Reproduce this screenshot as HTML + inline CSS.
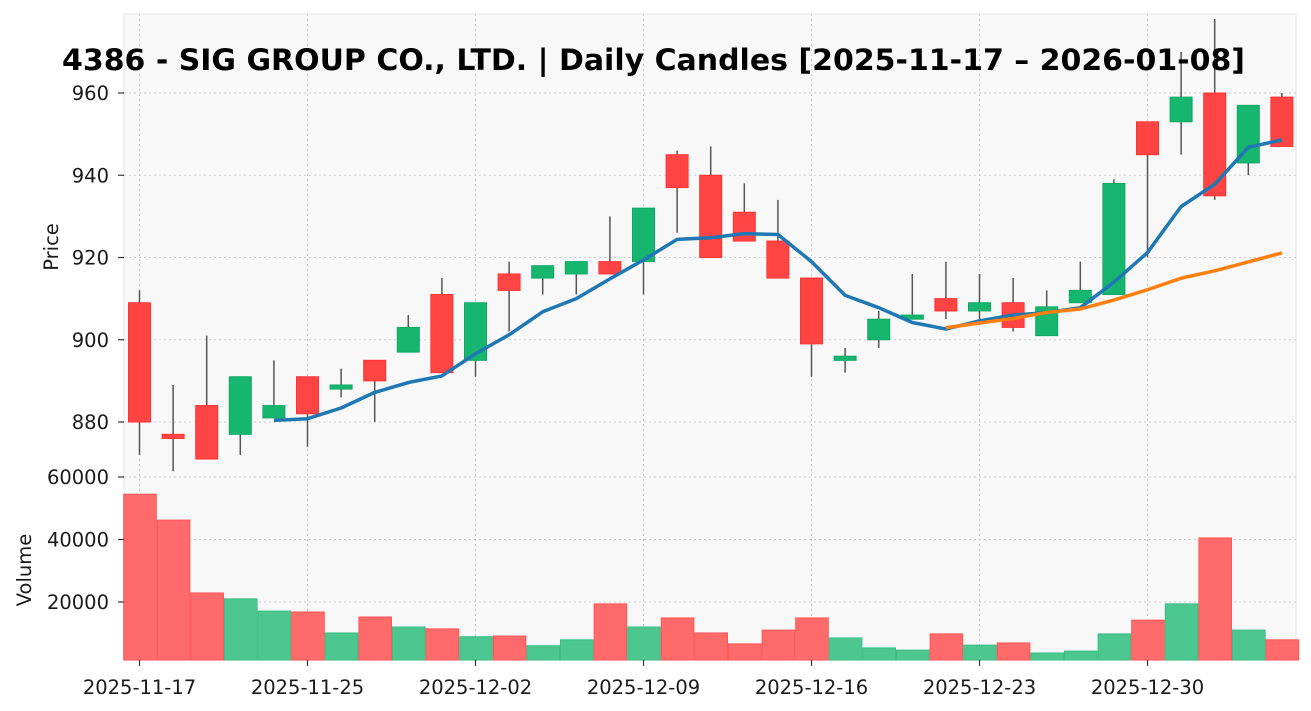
<!DOCTYPE html>
<html><head><meta charset="utf-8"><style>
html,body{margin:0;padding:0;background:#fff;}
svg{display:block;font-family:"DejaVu Sans","Liberation Sans",sans-serif;}
</style></head><body>
<svg id="chart" width="1311" height="711" viewBox="0 0 1311 711"></svg>
<script>
const dates=["2025-11-17","2025-11-18","2025-11-19","2025-11-20","2025-11-21","2025-11-25","2025-11-26","2025-11-27","2025-11-28","2025-12-01","2025-12-02","2025-12-03","2025-12-04","2025-12-05","2025-12-08","2025-12-09","2025-12-10","2025-12-11","2025-12-12","2025-12-15","2025-12-16","2025-12-17","2025-12-18","2025-12-19","2025-12-22","2025-12-23","2025-12-24","2025-12-25","2025-12-26","2025-12-29","2025-12-30","2026-01-05","2026-01-06","2026-01-07","2026-01-08"];
const opens=[909,877,884,877,881,891,888,895,897,911,895,916,915,916,919,919,945,940,931,924,915,895,900,905,910,907,909,901,909,911,953,953,960,943,959];
const highs=[912,889,901,891,895,891,893,895,906,915,909,919,918,919,930,932,946,947,938,934,915,898,907,916,919,916,915,912,919,939,953,970,978,957,960];
const lows=[872,868,871,872,881,874,886,880,897,892,891,902,911,911,916,911,926,920,924,915,891,892,898,905,905,905,902,901,909,911,920,945,934,940,947];
const closes=[880,876,871,891,884,882,889,890,903,892,909,912,918,919,916,932,937,920,924,915,899,896,905,906,907,909,903,908,912,938,945,959,935,957,947];
const volumes=[54500,46200,22900,21000,17100,16800,10100,15200,12000,11400,8900,9100,6000,7900,19400,12000,14900,10100,6600,11000,14900,8500,5300,4600,9800,6200,6900,3700,4300,9800,14200,19400,40500,11000,7900];
const priceTicks=[880,900,920,940,960];
const volTicks=[20000,40000,60000];
const xTickIdx=[0,5,10,15,20,25,30];

const NS="http://www.w3.org/2000/svg";
const svg=document.getElementById('chart');
function mk(tag,attrs,parent){const e=document.createElementNS(NS,tag);for(const k in attrs)e.setAttribute(k,attrs[k]);(parent||svg).appendChild(e);return e;}
const L=124,R=1296,T=14,B=660;
const step=33.6, x0=139.5;
const xS=i=>x0+i*step;
const yP=v=>93+(960-v)*4.1125;
const yV=v=>477+(60000-v)/320;

const bg=mk('rect',{x:L,y:T,width:R-L,height:B-T,fill:'#f8f8f8',stroke:'#ececec','stroke-width':1.5});



const grid=mk('g',{});


priceTicks.forEach(v=>{mk('line',{x1:L,x2:R,y1:yP(v),y2:yP(v),stroke:'#d0d0d0','stroke-dasharray':'2,3'},grid);});
volTicks.forEach(v=>{mk('line',{x1:L,x2:R,y1:yV(v),y2:yV(v),stroke:'#d0d0d0','stroke-dasharray':'2,3'},grid);});
xTickIdx.forEach(i=>{mk('line',{x1:xS(i),x2:xS(i),y1:T,y2:B,stroke:'#d0d0d0','stroke-dasharray':'2,3'},grid);});

const vg=mk('g',{});


volumes.forEach((v,i)=>{
  const up=closes[i]>=opens[i];
  const r=mk('rect',{x:xS(i)-step/2+1,y:yV(v),width:step-1,height:B-yV(v),fill:up?'#4cc790':'#ff6b6b',stroke:up?'#3dbd84':'#ff5555','stroke-width':1},vg);
  
  
});

const cg=mk('g',{});


opens.forEach((o,i)=>{
  const c=closes[i],up=c>=o;
  const g=mk('g',{},cg);
  
  
  mk('line',{x1:xS(i),x2:xS(i),y1:yP(highs[i]),y2:yP(lows[i]),stroke:'#555','stroke-width':1.5},g);
  const top=yP(Math.max(o,c)),bot=yP(Math.min(o,c));
  mk('rect',{x:xS(i)-11,y:top,width:22,height:Math.max(bot-top,1.5),fill:up?'#17b66f':'#ff4444',stroke:up?'#0fa862':'#ff3333','stroke-width':1},g);
});

function ma(n){const out=[];for(let i=n-1;i<closes.length;i++){let s=0;for(let j=i-n+1;j<=i;j++)s+=closes[j];out.push([i,s/n]);}return out;}
[[5,'#1f77b4','ma5-line'],[25,'#ff7f0e','ma25-line']].forEach(([n,col,name])=>{
  const pts=ma(n).map(([i,v])=>xS(i)+','+yP(v)).join(' ');
  const p=mk('polyline',{points:pts,fill:'none',stroke:col,'stroke-width':3.5,'stroke-linejoin':'round'});
  
  
});

const ax=mk('g',{'font-size':19.5,fill:'#1a1a1a'});


priceTicks.forEach(v=>{
  mk('line',{x1:L-6,x2:L,y1:yP(v),y2:yP(v),stroke:'#333','stroke-width':1.2},ax);
  const t=mk('text',{x:L-15,y:yP(v)+7,'text-anchor':'end'},ax);t.textContent=v;
  
  
});
volTicks.forEach(v=>{
  mk('line',{x1:L-6,x2:L,y1:yV(v),y2:yV(v),stroke:'#333','stroke-width':1.2},ax);
  const t=mk('text',{x:L-15,y:yV(v)+7,'text-anchor':'end'},ax);t.textContent=v;
  
  
});
xTickIdx.forEach(i=>{
  mk('line',{x1:xS(i),x2:xS(i),y1:B,y2:B+6,stroke:'#333','stroke-width':1.2},ax);
  const t=mk('text',{x:xS(i),y:694,'text-anchor':'middle'},ax);t.textContent=dates[i];
  
  
});
const yl=mk('text',{x:0,y:0,transform:'translate(58,247) rotate(-90)','text-anchor':'middle','font-size':19.5,fill:'#1a1a1a'});
yl.textContent='Price';


const vl=mk('text',{x:0,y:0,transform:'translate(31,570) rotate(-90)','text-anchor':'middle','font-size':19.5,fill:'#1a1a1a'});
vl.textContent='Volume';



const title=mk('text',{x:62,y:70,'font-size':29,'font-weight':'bold',fill:'#000',textLength:1183,lengthAdjust:'spacingAndGlyphs'});
title.textContent='4386 - SIG GROUP CO., LTD. | Daily Candles [2025-11-17 – 2026-01-08]';


</script>
</body></html>
